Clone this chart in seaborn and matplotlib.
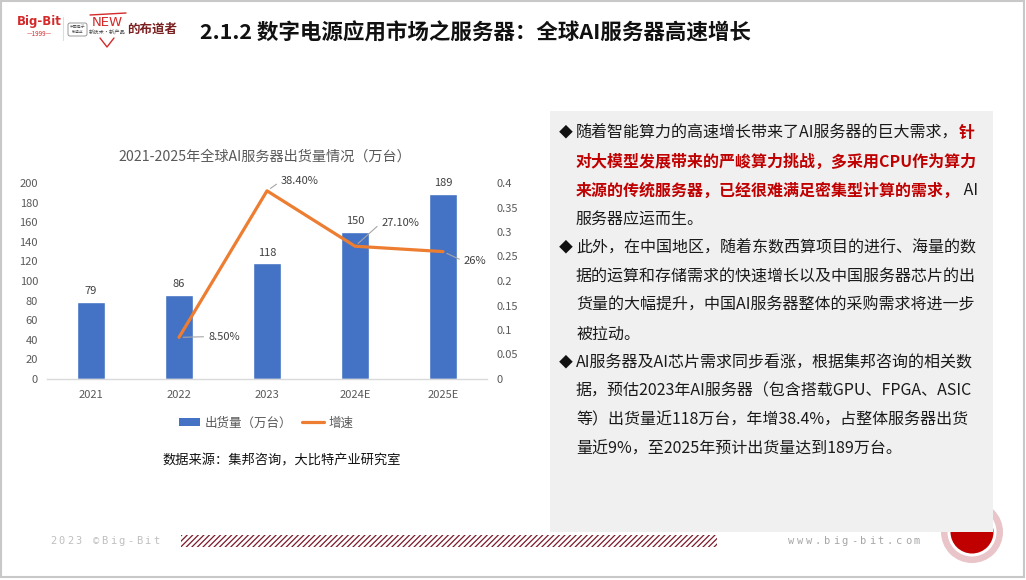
import numpy as np
import pandas as pd
import matplotlib
matplotlib.use("Agg")
import matplotlib.pyplot as plt
import seaborn as sns
from matplotlib.patches import Rectangle, Circle, Patch, FancyBboxPatch
from matplotlib.lines import Line2D
from matplotlib.ticker import FuncFormatter, FixedLocator

# ---------------- data ----------------
years = ["2021", "2022", "2023", "2024E", "2025E"]
shipments = [79, 86, 118, 150, 189]
growth_years = ["2022", "2023", "2024E", "2025E"]
growth = [0.085, 0.384, 0.271, 0.26]
growth_labels = ["8.50%", "38.40%", "27.10%", "26%"]
left_ticks = [0, 20, 40, 60, 80, 100, 120, 140, 160, 180, 200]
right_ticks = [0, 0.05, 0.1, 0.15, 0.2, 0.25, 0.3, 0.35, 0.4]

chart_title = "2021-2025年全球AI服务器出货量情况（万台）"
legend_labels = ["出货量（万台）", "增速"]
source_text = "数据来源：集邦咨询，大比特产业研究室"
slide_title = "2.1.2 数字电源应用市场之服务器：全球AI服务器高速增长"
footer_left = "2023 ©Big-Bit"
footer_right = "www.big-bit.com"
page_no = "11"

panel_lines = [
    (True, [("随着智能算力的高速增长带来了AI服务器的巨大需求，", "n"), ("针", "r")]),
    (False, [("对大模型发展带来的严峻算力挑战，多采用CPU作为算力", "r")]),
    (False, [("来源的传统服务器，已经很难满足密集型计算的需求，", "r"), (" AI", "n")]),
    (False, [("服务器应运而生。", "n")]),
    (True, [("此外，在中国地区，随着东数西算项目的进行、海量的数", "n")]),
    (False, [("据的运算和存储需求的快速增长以及中国服务器芯片的出", "n")]),
    (False, [("货量的大幅提升，中国AI服务器整体的采购需求将进一步", "n")]),
    (False, [("被拉动。", "n")]),
    (True, [("AI服务器及AI芯片需求同步看涨，根据集邦咨询的相关数", "n")]),
    (False, [("据，预估2023年AI服务器（包含搭载GPU、FPGA、ASIC", "n")]),
    (False, [("等）出货量近118万台，年增38.4%，占整体服务器出货", "n")]),
    (False, [("量近9%，至2025年预计出货量达到189万台。", "n")]),
]

# ---------------- style ----------------
sns.set_theme(style="white")
plt.rcParams["font.family"] = ["Noto Sans CJK SC", "DejaVu Sans"]

BAR = "#4472C4"
LINE = "#ED7D31"
GRAY_TXT = "#595959"
LBL = "#404040"

W, H = 1026, 580
fig = plt.figure(figsize=(W / 100, H / 100), dpi=100)
fig.patch.set_facecolor("white")

# background axes in pixel coordinates for slide decorations
bg = fig.add_axes([0, 0, 1, 1])
bg.set_xlim(0, W)
bg.set_ylim(H, 0)
bg.axis("off")

# slide border
bg.add_patch(Rectangle((0.8, 0.8), W - 2.5, H - 4, fill=False, ec="#C8C8C8", lw=1.5))

# logo
bg.text(39, 21, "Big-Bit", color="#D42A2A", fontsize=8.5, weight="bold",
        ha="center", va="center", family="DejaVu Sans")
bg.text(39, 34, "—1999—", color="#D42A2A", fontsize=4.5, ha="center", va="center")
bg.plot([63, 63], [17, 40], color="#DDDDDD", lw=0.8)
bg.add_patch(FancyBboxPatch((68, 23), 19, 13, boxstyle="round,pad=0,rounding_size=2",
                            fc="none", ec="#888888", lw=0.6))
bg.text(77.5, 29.5, "中国电子\n制造业", fontsize=2.8, ha="center", va="center",
        color="#555555", linespacing=1.0)
bg.text(107, 23, "NEW", color="#D42A2A", fontsize=9.5, ha="center", va="center",
        family="DejaVu Sans")
bg.plot([90, 126], [15, 13], color="#D42A2A", lw=1.0)
bg.plot([100, 107, 114], [38, 47, 38], color="#D42A2A", lw=1.0)
bg.text(107, 33, "新技术·新产品", fontsize=3.8, ha="center", va="center", color="#444444")
bg.text(152, 29, "的布道者", fontsize=9, ha="center", va="center", color="#7A1F1F",
        weight="bold")

# slide title
bg.text(200, 33, slide_title, fontsize=15.5, weight="bold", ha="left", va="center",
        color="#111111")

# page circle (under the grey box)
bg.add_patch(Circle((972, 532), 31, fc="#E9C4C9", ec="none", zorder=1))
bg.add_patch(Circle((972, 532), 24.5, fc="white", ec="none", zorder=1.1))
bg.add_patch(Circle((972, 532), 21.5, fc="#C00000", ec="none", zorder=1.2))
bg.text(971, 527, page_no, color="white", fontsize=10, weight="bold",
        ha="center", va="center", zorder=1.3)

# right grey panel
bg.add_patch(Rectangle((550, 111), 443, 421, fc="#F0F0F0", ec="none", zorder=2))

# footer
for i, ch in enumerate(footer_left):
    bg.text(53 + i * 8.6, 541, ch, fontsize=7.5, color="#BFBFBF", ha="center",
            va="center", family="DejaVu Sans Mono")
for i, ch in enumerate(footer_right):
    bg.text(791 + i * 9.0, 541, ch, fontsize=7.5, color="#A6A6A6", ha="center",
            va="center", family="DejaVu Sans Mono")
plt.rcParams["hatch.linewidth"] = 0.9
plt.rcParams["hatch.color"] = "#7B1A2A"
bg.add_patch(Rectangle((181, 535), 536, 12, fill=False, hatch="//////",
                       ec="#7B1A2A", lw=0))

# ---------------- chart ----------------
L, R, B, T = 47, 487, 379, 183
ax = fig.add_axes([L / W, 1 - B / H, (R - L) / W, (B - T) / H])
ax.set_facecolor("none")

df = pd.DataFrame({"year": years, "shipments": shipments})
sns.barplot(data=df, x="year", y="shipments", order=years, color=BAR,
            saturation=1, width=0.32, ax=ax)
ax.bar_label(ax.containers[0], labels=[str(v) for v in shipments], padding=4,
             fontsize=8, color=LBL)

ax2 = ax.twinx()
gdf = pd.DataFrame({"pos": [years.index(y) for y in growth_years], "growth": growth})
sns.lineplot(data=gdf, x="pos", y="growth", color=LINE, lw=2.3, ax=ax2)

ax.set_xlim(-0.5, len(years) - 0.5)
ax.set_ylim(0, 200)
ax2.set_ylim(0, 0.4)
ax.set_xlabel("")
ax.set_ylabel("")
ax2.set_xlabel("")
ax2.set_ylabel("")

ax.yaxis.set_major_locator(FixedLocator(left_ticks))
ax2.yaxis.set_major_locator(FixedLocator(right_ticks))
ax2.yaxis.set_major_formatter(FuncFormatter(lambda v, p: f"{v:g}"))

for a in (ax, ax2):
    for s in a.spines.values():
        s.set_visible(False)
    a.grid(False)
ax.spines["bottom"].set_visible(True)
ax.spines["bottom"].set_color("#D9D9D9")
ax.spines["bottom"].set_linewidth(1.0)

ax.tick_params(axis="y", length=0, pad=6.5, labelsize=8, labelcolor=GRAY_TXT)
ax.tick_params(axis="x", length=0, pad=8, labelsize=8, labelcolor=GRAY_TXT)
ax2.tick_params(axis="y", length=0, pad=6.5, labelsize=8, labelcolor=GRAY_TXT)

# growth labels with leader lines (offsets in points)
offsets = [(21, 0.5), (10, 7), (19, 17), (15, -7)]
for yv, lab, pos, off in zip(growth, growth_labels, gdf["pos"], offsets):
    ax2.annotate(lab, xy=(pos, yv), xytext=off, textcoords="offset points",
                 ha="left", va="center", fontsize=8, color=LBL,
                 arrowprops=dict(arrowstyle="-", color="#A6A6A6", lw=0.8,
                                 shrinkA=1, shrinkB=3, relpos=(0, 0.5)))

# chart title, legend, source
bg.text(265, 157, chart_title, fontsize=10.2, color=GRAY_TXT, ha="center", va="center")
handles = [Patch(facecolor=BAR, edgecolor="none"),
           Line2D([0], [0], color=LINE, lw=2.3)]
ax.legend(handles, legend_labels, loc="center", ncol=2, frameon=False,
          bbox_to_anchor=(266 / W, 1 - 423 / H), bbox_transform=fig.transFigure,
          fontsize=9, handlelength=1.7, handleheight=0.55, columnspacing=0.8,
          handletextpad=0.4, labelcolor=GRAY_TXT)
bg.text(282, 461, source_text, fontsize=9.5, color="#111111", ha="center", va="center")

# ---------------- right panel text ----------------
fig.canvas.draw()
renderer = fig.canvas.get_renderer()
styles = {"n": dict(color="#1A1A1A", weight="normal"),
          "r": dict(color="#C00000", weight="bold")}
y0, dy = 133, 28.7
for i, (bullet, segs) in enumerate(panel_lines):
    y = y0 + i * dy
    if bullet:
        bg.text(566, y, "◆", fontsize=10, color="#111111", ha="center", va="center",
                zorder=3)
    x = 576
    for txt, st in segs:
        t = bg.text(x, y, txt, fontsize=11.5, ha="left", va="center", zorder=3,
                    **styles[st])
        bb = t.get_window_extent(renderer=renderer)
        x = bb.x1

fig.savefig("out.png", dpi=100)
